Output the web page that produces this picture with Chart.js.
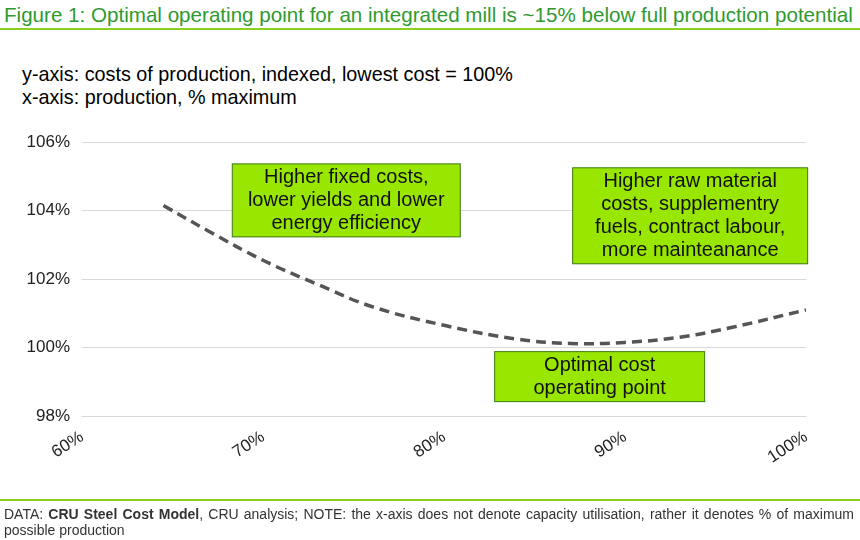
<!DOCTYPE html>
<html><head><meta charset="utf-8">
<script src="https://cdn.jsdelivr.net/npm/chart.js@4"></script>
<style>
body{margin:0;width:860px;height:540px;background:#fff;font-family:"Liberation Sans",Arial,sans-serif;position:relative;overflow:hidden}
#title{position:absolute;left:4px;top:3px;font-size:20.6px;color:#2f9a2f;white-space:nowrap}
#tline{position:absolute;left:0;top:28px;width:860px;height:2px;background:#8ccf1f}
#sub{position:absolute;left:22px;top:63px;font-size:19.8px;line-height:23px;color:#000}
#wrap{position:absolute;left:0;top:120px;width:860px;height:380px}
#fline{position:absolute;left:0;top:499px;width:860px;height:2px;background:#8ccf1f}
#foot{position:absolute;left:4px;top:506px;width:850px;font-size:14px;line-height:16px;color:#333;text-align:justify}
</style></head><body>
<div id="title">Figure 1: Optimal operating point for an integrated mill is ~15% below full production potential</div>
<div id="tline"></div>
<div id="sub">y-axis: costs of production, indexed, lowest cost = 100%<br>x-axis: production, % maximum</div>
<div id="wrap"><canvas id="c"></canvas></div>
<div id="fline"></div>
<div id="foot">DATA: <b>CRU Steel Cost Model</b>, CRU analysis; NOTE: the x-axis does not denote capacity utilisation, rather it denotes % of maximum possible production</div>
<script>
// production (% of max) and indexed cost (%)
const production = [64.5, 67, 70, 73, 76, 80, 84, 87, 90, 93, 96, 100];
const cost = [104.15, 103.4, 102.55, 101.85, 101.2, 100.65, 100.25, 100.12, 100.15, 100.3, 100.6, 101.1];
const xTicks = [60, 70, 80, 90, 100];
const yTicks = [98, 100, 102, 104, 106];
const notes = [
  {x: 74.6, y: 104.3, w: 228, lines: ['Higher fixed costs,', 'lower yields and lower', 'energy efficiency']},
  {x: 93.6, y: 103.85, w: 235, lines: ['Higher raw material', 'costs, supplementry', 'fuels, contract labour,', 'more mainteanance']},
  {x: 88.6, y: 99.15, w: 210, lines: ['Optimal cost', 'operating point']}
];

const notePlugin = {
  id: 'notes',
  afterDatasetsDraw(chart) {
    const ctx = chart.ctx, xs = chart.scales.x, ys = chart.scales.y;
    ctx.save();
    ctx.font = '20px "Liberation Sans", Arial';
    ctx.textAlign = 'center';
    ctx.textBaseline = 'middle';
    notes.forEach(n => {
      const cx = xs.getPixelForValue(n.x), cy = ys.getPixelForValue(n.y);
      const lh = 23, h = n.lines.length * lh + 4;
      ctx.fillStyle = '#99e600';
      ctx.strokeStyle = '#3a7a10';
      ctx.lineWidth = 1;
      ctx.fillRect(cx - n.w / 2, cy - h / 2, n.w, h);
      ctx.strokeRect(cx - n.w / 2, cy - h / 2, n.w, h);
      ctx.fillStyle = '#111';
      n.lines.forEach((t, i) => ctx.fillText(t, cx, cy - h / 2 + 2 + lh * (i + 0.5)));
    });
    ctx.restore();
  }
};

new Chart(document.getElementById('c'), {
  type: 'line',
  data: {
    datasets: [{
      data: production.map((p, i) => ({x: p, y: cost[i]})),
      borderColor: '#555',
      borderWidth: 3.5,
      borderDash: [10, 6],
      pointRadius: 0,
      tension: 0.4,
      fill: false
    }]
  },
  options: {
    responsive: true,
    maintainAspectRatio: false,
    animation: false,
    layout: {padding: {top: 21, right: 54, left: 0, bottom: 0}},
    plugins: {legend: {display: false}, tooltip: {enabled: false}},
    scales: {
      x: {
        type: 'linear', min: 60, max: 100,
        afterBuildTicks: s => { s.ticks = xTicks.map(v => ({value: v})); },
        afterFit: s => { s.height = 84; },
        grid: {display: false},
        border: {display: false},
        ticks: {minRotation: 33, maxRotation: 33, color: '#222', font: {size: 17, family: '"Liberation Sans", Arial'}, callback: v => v + '%'}
      },
      y: {
        min: 98, max: 106,
        afterBuildTicks: s => { s.ticks = yTicks.map(v => ({value: v})); },
        afterFit: s => { s.width = 82; },
        grid: {color: '#d9d9d9', drawTicks: false},
        border: {display: false},
        ticks: {padding: 12, color: '#222', font: {size: 17, family: '"Liberation Sans", Arial'}, callback: v => v + '%'}
      }
    }
  },
  plugins: [notePlugin]
});
</script>
</body></html>
